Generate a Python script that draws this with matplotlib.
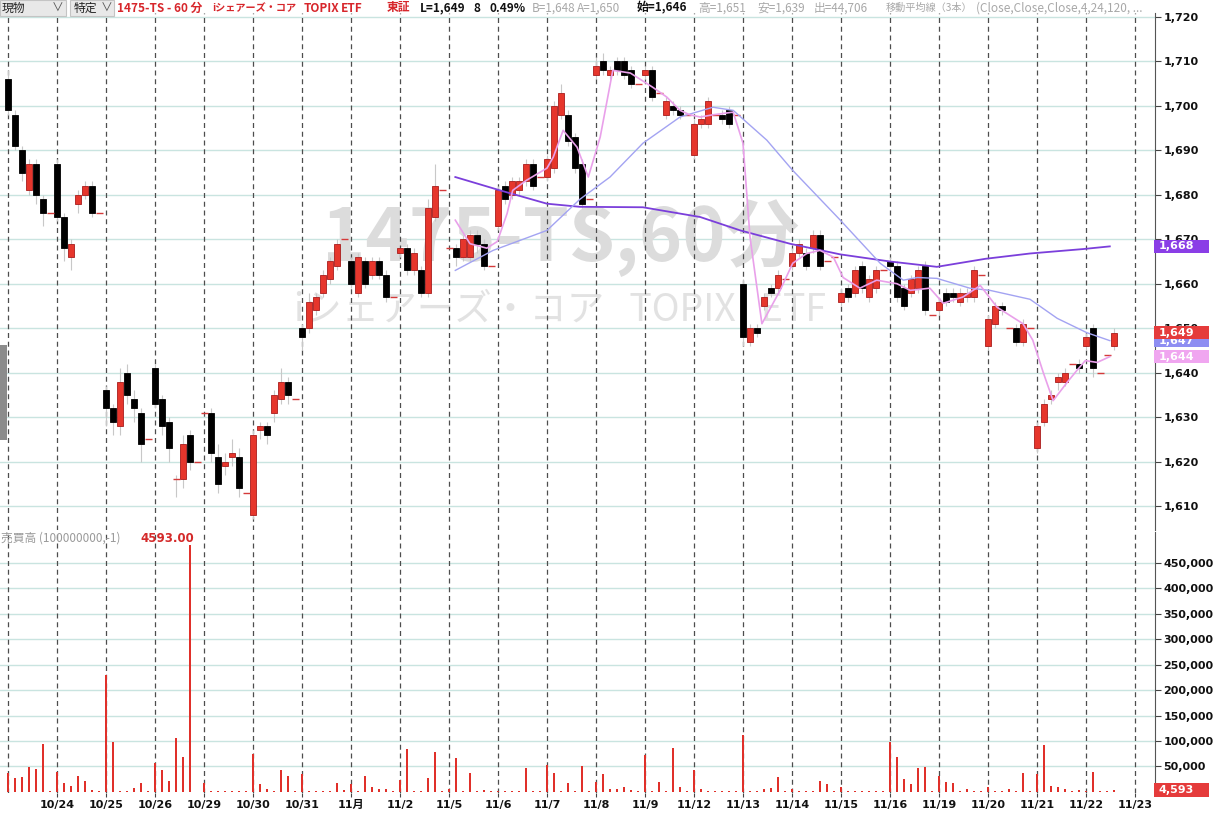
import numpy as np
import matplotlib
matplotlib.use('Agg')
import matplotlib.pyplot as plt
from matplotlib.patches import Rectangle
import matplotlib.transforms as mtrans

plt.rcParams['font.family'] = ['DejaVu Sans', 'Noto Sans CJK JP']

# one label per trading day (60-minute bars, 7 slots per day)
days = ['10/23', '10/24', '10/25', '10/26', '10/29', '10/30', '10/31', '11月',
        '11/2', '11/5', '11/6', '11/7', '11/8', '11/9', '11/12', '11/13',
        '11/14', '11/15', '11/16', '11/19', '11/20', '11/21', '11/22', '11/23']

open_ = [
    1706, 1698, 1690, 1681, 1687, 1679, 1676,   # 10/23
    1687, 1675, 1666, 1678, 1680, 1682, 1676,   # 10/24
    1636, 1632, 1628, 1640, 1634, 1631, 1625,   # 10/25
    1641, 1634, 1629, 1616, 1616, 1626, 1620,   # 10/26
    1631, 1631, 1621, 1619, 1621, 1621, 1613,   # 10/29
    1608, 1627, 1628, 1631, 1634, 1638, 1634,   # 10/30
    1650, 1650, 1654, 1658, 1661, 1664, 1670,   # 10/31
    1665, 1658, 1665, 1662, 1665, 1662, 1657,   # 11/1
    1667, 1668, 1663, 1663, 1658, 1675, 1681,   # 11/2
    1668, 1668, 1666, 1666, 1671, 1669, 1664,   # 11/5
    1673, 1682, 1680, 1681, 1683, 1687, 1684,   # 11/6
    1684, 1686, 1698, 1698, 1693, 1687, 1679,   # 11/7
    1707, 1710, 1707, 1710, 1710, 1708, 1705,   # 11/8
    1707, 1708, 1703, 1698, 1700, 1699, 1698,   # 11/9
    1689, 1696, 1696, 1698, 1698, 1699, 1698,   # 11/12
    1660, 1647, 1650, 1655, 1659, 1659, 1661,   # 11/13
    1664, 1667, 1667, 1668, 1671, 1665, 1666,   # 11/14
    1656, 1659, 1658, 1664, 1657, 1659, 1663,   # 11/15
    1665, 1664, 1659, 1658, 1659, 1664, 1653,   # 11/16
    1654, 1658, 1658, 1656, 1657, 1657, 1662,   # 11/19
    1646, 1651, 1655, 1650, 1650, 1647, 1650,   # 11/20
    1623, 1629, 1634, 1638, 1638, 1642, 1642,   # 11/21
    1646, 1650, 1640, 1644, 1646, None, None,   # 11/22
]
high = [
    1708, 1699, 1691, 1688, 1688, 1680, 1676,
    1688, 1676, 1670, 1681, 1683, 1683, 1676,
    1637, 1633, 1641, 1642, 1636, 1632, 1625,
    1642, 1635, 1630, 1617, 1626, 1627, 1620,
    1631, 1632, 1624, 1622, 1625, 1623, 1613,
    1627, 1629, 1629, 1636, 1641, 1639, 1634,
    1651, 1658, 1658, 1663, 1666, 1670, 1670,
    1666, 1667, 1666, 1666, 1666, 1663, 1657,
    1668, 1669, 1668, 1664, 1679, 1687, 1681,
    1668, 1669, 1671, 1672, 1672, 1670, 1664,
    1682, 1683, 1684, 1684, 1688, 1688, 1684,
    1689, 1701, 1705, 1699, 1694, 1688, 1679,
    1711, 1712, 1709, 1711, 1711, 1709, 1705,
    1709, 1709, 1703, 1702, 1701, 1700, 1698,
    1697, 1698, 1702, 1698, 1699, 1700, 1698,
    1661, 1651, 1651, 1658, 1660, 1663, 1661,
    1668, 1670, 1668, 1672, 1672, 1665, 1666,
    1659, 1660, 1664, 1665, 1662, 1664, 1663,
    1666, 1665, 1660, 1662, 1664, 1665, 1653,
    1657, 1659, 1659, 1659, 1659, 1664, 1662,
    1653, 1656, 1656, 1650, 1651, 1652, 1650,
    1629, 1634, 1636, 1640, 1641, 1642, 1643,
    1649, 1651, 1640, 1644, 1650, None, None,
]
low = [
    1698, 1690, 1683, 1680, 1678, 1673, 1676,
    1674, 1665, 1663, 1676, 1679, 1675, 1676,
    1628, 1626, 1626, 1633, 1629, 1620, 1625,
    1632, 1626, 1620, 1612, 1614, 1618, 1620,
    1631, 1620, 1613, 1617, 1619, 1612, 1613,
    1607, 1625, 1624, 1629, 1633, 1633, 1634,
    1645, 1649, 1653, 1657, 1660, 1663, 1670,
    1659, 1657, 1659, 1661, 1661, 1656, 1657,
    1666, 1662, 1662, 1657, 1657, 1674, 1681,
    1668, 1664, 1665, 1665, 1667, 1663, 1664,
    1672, 1678, 1679, 1680, 1682, 1681, 1684,
    1683, 1685, 1697, 1691, 1685, 1677, 1679,
    1706, 1707, 1706, 1707, 1706, 1704, 1705,
    1706, 1701, 1703, 1697, 1698, 1697, 1698,
    1688, 1695, 1695, 1698, 1696, 1695, 1698,
    1646, 1646, 1648, 1654, 1657, 1658, 1661,
    1663, 1666, 1663, 1667, 1663, 1665, 1666,
    1655, 1656, 1657, 1658, 1656, 1658, 1663,
    1663, 1656, 1654, 1657, 1658, 1653, 1653,
    1653, 1655, 1656, 1655, 1656, 1656, 1662,
    1645, 1650, 1653, 1650, 1646, 1646, 1650,
    1622, 1628, 1633, 1636, 1637, 1642, 1640,
    1645, 1639, 1640, 1644, 1645, None, None,
]
close = [
    1699, 1691, 1685, 1687, 1680, 1676, 1676,
    1675, 1668, 1669, 1680, 1682, 1676, 1676,
    1632, 1629, 1638, 1635, 1632, 1624, 1625,
    1633, 1628, 1623, 1616, 1624, 1620, 1620,
    1631, 1622, 1615, 1620, 1622, 1614, 1613,
    1626, 1628, 1626, 1635, 1638, 1635, 1634,
    1648, 1656, 1657, 1662, 1665, 1669, 1670,
    1660, 1666, 1660, 1665, 1662, 1657, 1657,
    1668, 1663, 1667, 1658, 1677, 1682, 1681,
    1668, 1666, 1670, 1671, 1669, 1664, 1664,
    1681, 1679, 1683, 1683, 1687, 1682, 1684,
    1688, 1700, 1703, 1692, 1686, 1678, 1679,
    1709, 1708, 1708, 1708, 1707, 1705, 1705,
    1708, 1702, 1703, 1701, 1699, 1698, 1698,
    1696, 1697, 1701, 1698, 1697, 1696, 1698,
    1648, 1650, 1649, 1657, 1658, 1662, 1661,
    1667, 1669, 1664, 1671, 1664, 1665, 1666,
    1658, 1657, 1663, 1659, 1661, 1663, 1663,
    1664, 1657, 1655, 1661, 1663, 1654, 1653,
    1656, 1656, 1657, 1658, 1658, 1663, 1662,
    1652, 1655, 1654, 1650, 1647, 1651, 1650,
    1628, 1633, 1635, 1639, 1640, 1642, 1641,
    1648, 1641, 1640, 1644, 1649, None, None,
]
volume = [
    37000, 27000, 29000, 48000, 45000, 94000, 1500,
    40000, 17000, 12000, 32000, 22000, 3000, 1500,
    230000, 98000, 2000, 2000, 7000, 18000, 1000,
    56000, 44000, 21000, 106000, 69000, 486000, 500,
    17000, 1000, 1000, 1000, 1000, 1000, 1000,
    75000, 16000, 6000, 1000, 43000, 31000, 1000,
    36000, 1000, 1000, 1000, 1000, 18000, 3000,
    16000, 2000, 31000, 10000, 5000, 5000, 1000,
    24000, 84000, 1000, 1000, 27000, 78000, 1000,
    5000, 67000, 2000, 37000, 1000, 3000, 1000,
    1000, 1000, 1000, 1000, 46000, 1000, 1000,
    52000, 38000, 1000, 18000, 1000, 50000, 1000,
    19000, 36000, 5000, 5000, 10000, 3000, 1000,
    73000, 1000, 19000, 1000, 87000, 10000, 1000,
    43000, 5000, 2000, 1000, 1000, 1000, 1000,
    112000, 1000, 1000, 6000, 8000, 30000, 1000,
    6000, 1000, 1000, 1000, 21000, 15000, 2000,
    10000, 1000, 1000, 1000, 1000, 1000, 1000,
    98000, 69000, 26000, 16000, 47000, 49000, 1000,
    32000, 19000, 18000, 1000, 5000, 1000, 1000,
    10000, 1000, 1000, 5000, 2000, 37000, 1000,
    36000, 92000, 11000, 10000, 5000, 2000, 4000,
    1000, 39000, 1000, 1000, 4593, None, None,
]

# moving averages (4, 24, 120): slot position / value
ma4_x = [63.9, 66, 68.4, 69.9, 71.3, 72.1, 74.1, 77, 77.9, 79.3, 81.3, 82.9,
         84.6, 86.4, 88.9, 90.3, 92.1, 94.1, 96, 97.4, 98.9, 100.7, 103.6,
         105, 106, 107.7, 110.3, 112.1, 114.1, 116, 117.9, 119.3, 121.7,
         124.1, 127, 128.9, 131.7, 133.6, 136.4, 138.9, 141.3, 145, 146.4,
         147.9, 149.3, 151.3, 152.7, 153.9, 155.6, 157.4]
ma4_y = [1674.3, 1669, 1668, 1669.5, 1675.8, 1681, 1683.3, 1686, 1688.5,
         1694.5, 1690.7, 1684, 1693, 1708, 1707.4, 1706, 1704.2, 1702, 1699,
         1698, 1697.5, 1698, 1698.6, 1691.6, 1670.5, 1651, 1658.5, 1664.6,
         1666.8, 1667.5, 1666, 1661.4, 1659, 1660.8, 1660, 1658.5, 1659,
         1655.6, 1657, 1659.6, 1654.7, 1651, 1647.3, 1640, 1633.7, 1637.8,
         1640.5, 1642.7, 1642.3, 1643.6]
ma24_x = [63.9, 69.3, 77, 81.7, 86, 90.7, 96, 100.7, 103.6, 108.4, 112.1,
          118.9, 124.6, 127.9, 129.9, 132.7, 137.4, 140.3, 146, 149.9, 154.1,
          157.4]
ma24_y = [1663, 1667.5, 1672, 1679, 1684, 1691.6, 1697.5, 1699.7, 1699,
          1692.3, 1685.5, 1674.3, 1664.6, 1660.8, 1661.4, 1661.2, 1659,
          1658.5, 1656.5, 1652.2, 1649, 1647.2]
ma120_x = [63.9, 70.3, 77, 81.7, 90.7, 98.9, 104.6, 111.7, 118.9, 126, 132.7,
           139.6, 146, 153.6, 157.4]
ma120_y = [1684, 1681, 1678, 1677.3, 1677.2, 1675, 1672, 1669, 1666.6, 1665,
           1663.8, 1665.6, 1666.8, 1667.8, 1668.4]

price_ticks = list(range(1610, 1721, 10))
vol_ticks = list(range(50000, 450001, 50000))

W, H = 1214, 814
fig = plt.figure(figsize=(W / 100, H / 100), dpi=100)
ax_p = fig.add_axes([0, 1 - 530 / H, 1155 / W, 517 / H])
ax_v = fig.add_axes([0, 1 - 793 / H, 1155 / W, 261 / H])


def arr(a):
    return np.array([np.nan if q is None else q for q in a], dtype=float)


o, hi, lo, c, vol = arr(open_), arr(high), arr(low), arr(close), arr(volume)
x = np.arange(len(o))
up = c > o
dn = c < o
flat = c == o

RED = '#e6362c'
grid_h = '#c9e4e0'
grid_v = '#4d4d4d'
JP = ['Noto Sans CJK JP', 'DejaVu Sans']

for ax in (ax_p, ax_v):
    ax.set_xlim(-8 / 7, (1155 - 8) / 7)
    for d in range(len(days)):
        ax.axvline(7 * d, color=grid_v, lw=0.9, ls=(0, (4, 3)), zorder=1)
    for s in ('top', 'left', 'bottom'):
        ax.spines[s].set_visible(False)
    ax.spines['right'].set_color('#555555')
    ax.yaxis.tick_right()
    ax.tick_params(axis='y', length=4, width=0.8, color='#444444', pad=2,
                   labelsize=8, labelcolor='#111111')

# price panel
ax_p.set_ylim(1604.6, 1720.9)
for t in price_ticks:
    ax_p.axhline(t, color=grid_h, lw=1, zorder=0.5)
ax_p.set_yticks(price_ticks, [f'{t:,}' for t in price_ticks])
ax_p.set_xticks([])
for lab in ax_p.get_yticklabels():
    lab.set_fontweight('bold')

# watermark
ax_p.text(0.485, 0.565, '1475-TS,60分', transform=ax_p.transAxes,
          ha='center', va='center', fontsize=53, fontweight='bold',
          color='#dcdcdc', family=JP, zorder=0.8)
ax_p.text(0.485, 0.425, 'iシェアーズ・コア   TOPIX   ETF', transform=ax_p.transAxes,
          ha='center', va='center', fontsize=27, color='#e2e2e2',
          family=JP, zorder=0.8)

ax_p.vlines(x, lo, hi, color='#c8c8c8', lw=0.8, zorder=2)
ax_p.bar(x[up], (c - o)[up], bottom=o[up], width=0.92, color=RED,
         edgecolor='#a81c1c', linewidth=0.6, zorder=3)
ax_p.bar(x[dn], (o - c)[dn], bottom=c[dn], width=0.92, color='black',
         edgecolor='black', linewidth=0.6, zorder=3)
ax_p.hlines(c[flat], x[flat] - 0.5, x[flat] + 0.5, color='#d43a3a', lw=1,
            zorder=3)

ax_p.plot(ma120_x, ma120_y, color='#7b3fdb', lw=1.3, zorder=4)
ax_p.plot(ma24_x, ma24_y, color='#a3a3f2', lw=1.0, zorder=4)
ax_p.plot(ma4_x, ma4_y, color='#e9a0ea', lw=1.2, zorder=4)


def value_box(ax, val, fc, height, z):
    tr = mtrans.blended_transform_factory(ax.transAxes, ax.transData)
    ax.add_patch(Rectangle((0.999, val - height / 2), 0.048, height,
                           transform=tr, facecolor=fc, edgecolor='none',
                           clip_on=False, zorder=z))
    ax.text(1.003, val, f'{val:,.0f}', transform=tr, ha='left', va='center',
            fontsize=8, fontweight='bold', color='white', clip_on=False,
            zorder=z + 0.1)


value_box(ax_p, ma120_y[-1], '#8a3ee6', 2.9, 6)
value_box(ax_p, ma24_y[-1], '#8e8ef2', 2.9, 6)
value_box(ax_p, ma4_y[-1], '#f0a6f0', 2.9, 6.2)
value_box(ax_p, close[-3], '#e53b3b', 2.9, 6.4)

# volume panel
ax_v.set_ylim(-2200, 511000)
for t in vol_ticks:
    ax_v.axhline(t, color=grid_h, lw=1, zorder=0.5)
ax_v.set_yticks(vol_ticks, [f'{t:,}' for t in vol_ticks])
for lab in ax_v.get_yticklabels():
    lab.set_fontweight('bold')
ok = ~np.isnan(vol)
ax_v.bar(x[ok], vol[ok], width=0.42, color='#e0302a', zorder=3)
value_box(ax_v, volume[-3], '#e53b3b', 27500, 6)

ax_v.set_xticks([7 * d for d in range(1, len(days))], days[1:])
ax_v.tick_params(axis='x', length=3, color='#444444', pad=2, labelsize=8,
                 labelcolor='#111111')
for lab in ax_v.get_xticklabels():
    lab.set_fontweight('bold')

fig.text(1 / W, 1 - 538 / H, '売買高 (100000000,-1)', ha='left', va='center',
         fontsize=8.5, color='#9a9a9a', family=JP)
fig.text(140 / W, 1 - 539 / H, '4593.00', ha='left', va='center',
         fontsize=8.5, fontweight='bold', color='#d42a2a')

# header row
fig.add_artist(Rectangle((0, 1 - 16 / H), 66 / W, 16 / H, transform=fig.transFigure,
                         facecolor='#e8e8e8', edgecolor='#c4c4c4', lw=0.8))
fig.add_artist(Rectangle((70 / W, 1 - 16 / H), 44 / W, 16 / H, transform=fig.transFigure,
                         facecolor='#e8e8e8', edgecolor='#c4c4c4', lw=0.8))
header = [
    (2, '現物', '#222222', 'normal', 8.5), (52, '∨', '#555555', 'normal', 8.5),
    (74, '特定', '#222222', 'normal', 8.5), (101, '∨', '#555555', 'normal', 8.5),
    (117, '1475-TS - 60 分', '#d7262b', 'bold', 8.5),
    (212, 'iシェアーズ・コア', '#d7262b', 'bold', 7.3),
    (304, 'TOPIX', '#d7262b', 'bold', 8.5), (341, 'ETF', '#d7262b', 'bold', 8.5),
    (387, '東証', '#d7262b', 'bold', 8.5),
    (420, 'L=1,649', '#111111', 'bold', 8.5), (473, '8', '#111111', 'bold', 8.5),
    (489, '0.49%', '#111111', 'bold', 8.5),
    (532, 'B=1,648', '#a8a8a8', 'normal', 8.5),
    (577, 'A=1,650', '#a8a8a8', 'normal', 8.5),
    (637, '始=1,646', '#111111', 'bold', 8.5),
    (698, '高=1,651', '#a8a8a8', 'normal', 8.5),
    (757, '安=1,639', '#a8a8a8', 'normal', 8.5),
    (814, '出=44,706', '#a8a8a8', 'normal', 8.5),
    (886, '移動平均線（3本）', '#a8a8a8', 'normal', 7.3),
    (976, '(Close,Close,Close,4,24,120, ...', '#a8a8a8', 'normal', 8.5),
]
for px, s, col, wt, fs in header:
    fig.text(px / W, 1 - 8 / H, s, ha='left', va='center', fontsize=fs,
             color=col, fontweight=wt, family=JP)

# scroll handle on the left edge
fig.add_artist(Rectangle((0, 1 - 440 / H), 7 / W, 95 / H, transform=fig.transFigure,
                         facecolor='#8c8c8c', edgecolor='none'))

fig.savefig('out.png', dpi=100)
